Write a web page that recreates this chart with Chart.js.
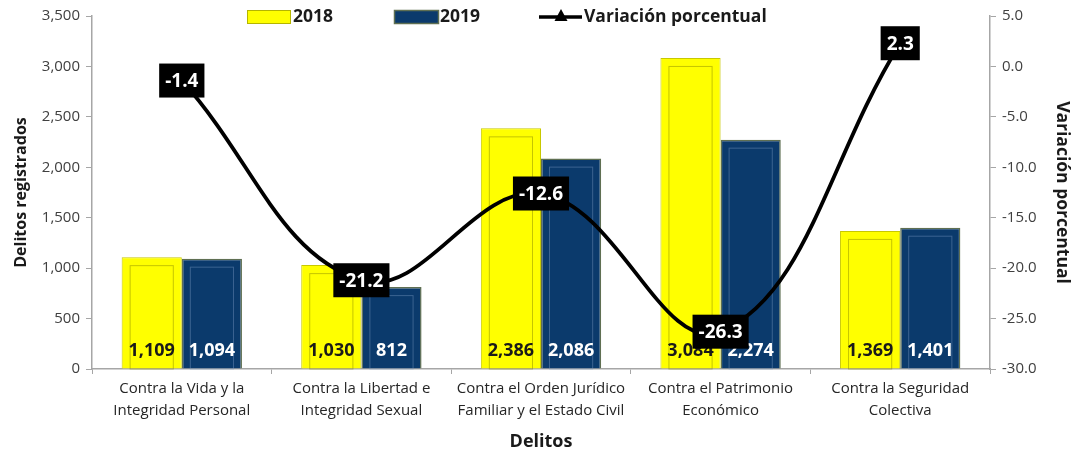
<!DOCTYPE html>
<html><head><meta charset="utf-8">
<script src="https://cdn.jsdelivr.net/npm/chart.js@4.4.0/dist/chart.umd.min.js"></script>
<style>html,body{margin:0;padding:0;background:#fff;}#wrap{width:1072px;height:453px;}</style>
</head><body><div id="wrap"><canvas id="c" width="1072" height="453"></canvas></div>
<script>
const categories = [
  ["Contra la Vida y la","Integridad Personal"],
  ["Contra la Libertad e","Integridad Sexual"],
  ["Contra el Orden Jurídico","Familiar y el Estado Civil"],
  ["Contra el Patrimonio","Económico"],
  ["Contra la Seguridad","Colectiva"]
];
const values2018 = [1109, 1030, 2386, 3084, 1369];
const values2019 = [1094, 812, 2086, 2274, 1401];
const variation = [-1.4, -21.2, -12.6, -26.3, 2.3];
const seriesNames = ["2018", "2019", "Variación porcentual"];

const FONT = "'Open Sans',sans-serif";
const YEL = '#FFFF00', BLUE = '#0B3A6C';

const fmt = v => v.toLocaleString('en-US');

const bevel = {
  id:'bevel',
  afterDatasetDraw(chart, args){
    if (args.index > 1) return;
    const ctx = chart.ctx;
    const meta = chart.getDatasetMeta(args.index);
    ctx.save();
    meta.data.forEach(b => {
      const w = b.width, l = b.x - w/2, t = b.y, bt = b.base;
      ctx.strokeStyle = args.index === 0 ? 'rgba(140,140,0,0.5)' : 'rgba(120,150,190,0.45)';
      ctx.lineWidth = 1;
      ctx.strokeRect(l + 8.5, t + 8.5, w - 17, bt - t - 8);
    });
    ctx.restore();
  }
};

const labels = {
  id:'labels',
  afterDatasetsDraw(chart){
    const ctx = chart.ctx;
    ctx.save();
    ctx.font = "bold 18px " + FONT;
    ctx.textAlign = 'center'; ctx.textBaseline = 'middle';
    [0,1].forEach(i => {
      const meta = chart.getDatasetMeta(i);
      const data = chart.data.datasets[i].data;
      meta.data.forEach((b, j) => {
        ctx.fillStyle = i === 0 ? '#1a1a1a' : '#ffffff';
        ctx.fillText(fmt(data[j]), b.x, 351);
      });
    });
    const lm = chart.getDatasetMeta(2);
    ctx.font = "bold 19px " + FONT;
    lm.data.forEach((p, j) => {
      const txt = variation[j].toFixed(1);
      const w = ctx.measureText(txt).width + 12, h = 34;
      ctx.fillStyle = '#000';
      ctx.fillRect(p.x - w/2, p.y - h/2, w, h);
      ctx.fillStyle = '#fff';
      ctx.fillText(txt, p.x, p.y + 1);
    });
    ctx.restore();
  }
};

const legend = {
  id:'customLegend',
  afterDraw(chart){
    const ctx = chart.ctx;
    ctx.save();
    ctx.font = "bold 17.5px " + FONT;
    ctx.textBaseline = 'middle'; ctx.textAlign = 'left';
    const y = 17;
    ctx.fillStyle = YEL; ctx.fillRect(247, 10, 44, 14);
    ctx.strokeStyle = '#b5b500'; ctx.lineWidth = 1; ctx.strokeRect(247.5, 10.5, 43, 13);
    ctx.fillStyle = '#1a1a1a'; ctx.fillText(seriesNames[0], 293, y);
    ctx.fillStyle = BLUE; ctx.fillRect(394, 10, 45, 14);
    ctx.strokeStyle = '#5f6f52'; ctx.lineWidth = 1.5; ctx.strokeRect(394.5, 10.5, 44, 13);
    ctx.fillStyle = '#1a1a1a'; ctx.fillText(seriesNames[1], 440, y);
    ctx.strokeStyle = '#000'; ctx.lineWidth = 3.5;
    ctx.beginPath(); ctx.moveTo(539, y); ctx.lineTo(582, y); ctx.stroke();
    ctx.fillStyle = '#000';
    ctx.beginPath(); ctx.moveTo(561, y - 8); ctx.lineTo(567.5, y + 4); ctx.lineTo(554.5, y + 4); ctx.closePath(); ctx.fill();
    ctx.fillStyle = '#1a1a1a'; ctx.fillText(seriesNames[2], 584, y);
    ctx.restore();
  }
};

new Chart(document.getElementById('c'), {
  data: {
    labels: categories,
    datasets: [
      {type:'bar', label:seriesNames[0], data:values2018, backgroundColor:YEL, borderColor:'#c8c800', borderWidth:1, yAxisID:'y', order:1},
      {type:'bar', label:seriesNames[1], data:values2019, backgroundColor:BLUE, borderColor:'#5f6f52', borderWidth:1.5, yAxisID:'y', order:1},
      {type:'line', label:seriesNames[2], data:variation, borderColor:'#000', borderWidth:3.8, pointRadius:0, tension:0.4, yAxisID:'y1', order:0, fill:false}
    ]
  },
  options: {
    responsive:false, animation:false, devicePixelRatio:1,
    layout:{padding:{top:16, left:0, right:0, bottom:0}},
    plugins:{legend:{display:false}, tooltip:{enabled:false}},
    datasets:{bar:{categoryPercentage:0.67, barPercentage:1}},
    scales:{
      x:{
        offset:true,
        grid:{offset:true, drawOnChartArea:false, drawTicks:true, tickLength:5, color:'#a6a6a6'},
        border:{color:'#a6a6a6', width:1.5},
        ticks:{font:{family:FONT, size:15, lineHeight:1.47}, color:'#262626', maxRotation:0, autoSkip:false, padding:4},
        title:{display:true, text:'Delitos', font:{family:FONT, size:18, weight:'bold'}, color:'#1a1a1a', padding:{top:2, bottom:0}},
        afterFit(s){ s.height = 84; }
      },
      y:{
        position:'left', min:0, max:3500,
        ticks:{stepSize:500, callback:v=>fmt(v), font:{family:FONT, size:15}, color:'#404040', padding:6},
        grid:{drawOnChartArea:false, tickLength:6, color:'#a6a6a6'},
        border:{color:'#a6a6a6', width:1.5},
        title:{display:true, text:'Delitos registrados', font:{family:FONT, size:16, weight:'bold'}, color:'#1a1a1a', padding:{top:12, bottom:0}},
        afterFit(s){ s.width = 92; }
      },
      y1:{
        position:'right', min:-30, max:5,
        ticks:{stepSize:5, callback:v=>v.toFixed(1), font:{family:FONT, size:15}, color:'#404040', padding:6},
        grid:{drawOnChartArea:false, tickLength:6, color:'#a6a6a6'},
        border:{color:'#a6a6a6', width:1.5},
        title:{display:true, text:'Variación porcentual', font:{family:FONT, size:17.5, weight:'bold'}, color:'#1a1a1a', padding:{top:0, bottom:0}},
        afterFit(s){ s.width = 82; }
      }
    }
  },
  plugins:[bevel, labels, legend]
});
</script></body></html>
